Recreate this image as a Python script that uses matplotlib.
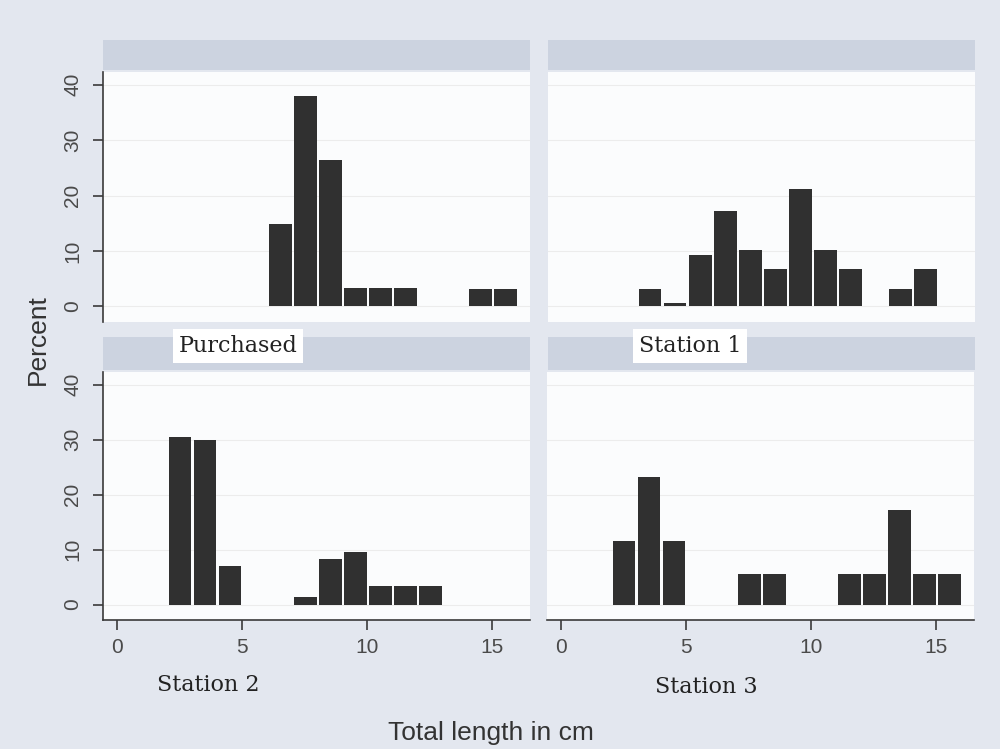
import matplotlib
matplotlib.use("Agg")
import matplotlib.pyplot as plt
from matplotlib import font_manager
from matplotlib.patches import Rectangle

# histogram data: left edge of each 1 cm bin and percent
purch_bins = [6, 7, 8, 9, 10, 11, 14, 15]
purch_pct = [14.9, 37.9, 26.4, 3.3, 3.3, 3.3, 3.2, 3.2]

st1_bins = [3, 4, 5, 6, 7, 8, 9, 10, 11, 13, 14]
st1_pct = [3.2, 0.7, 9.3, 17.3, 10.2, 6.7, 21.2, 10.2, 6.7, 3.2, 6.7]

st2_bins = [2, 3, 4, 7, 8, 9, 10, 11, 12]
st2_pct = [30.5, 30.0, 7.0, 1.3, 8.3, 9.5, 3.3, 3.3, 3.3]

st3_bins = [2, 3, 4, 7, 8, 11, 12, 13, 14, 15]
st3_pct = [11.6, 23.2, 11.6, 5.5, 5.5, 5.5, 5.5, 17.2, 5.5, 5.5]

panel_names = ["Purchased", "Station 1", "Station 2", "Station 3"]
y_ticks = [0, 10, 20, 30, 40]
x_ticks = [0, 5, 10, 15]

names = {f.name for f in font_manager.fontManager.ttflist}
sans = "Liberation Sans Narrow" if "Liberation Sans Narrow" in names else "Liberation Sans"
serif = "DejaVu Serif"

bg = "#e3e7ef"
strip = "#ccd3e0"
plot_bg = "#fbfcfd"
bar_col = "#303030"
ink = "#3a3a3a"

W, H = 1000, 749
fig = plt.figure(figsize=(10, 7.49), dpi=100)
fig.patch.set_facecolor(bg)


def fx(px):
    return px / W


def fy(py):
    return 1 - py / H


# grey header strips
for (x0, x1) in [(103, 530), (548, 975)]:
    for (y0, y1) in [(40, 70), (337, 370)]:
        fig.patches.append(Rectangle((fx(x0), fy(y1)), fx(x1 - x0), (y1 - y0) / H,
                                     transform=fig.transFigure, facecolor=strip,
                                     edgecolor="none", zorder=0))

boxes = {
    "tl": [fx(103), fy(322), fx(427), 250 / H],
    "tr": [fx(548), fy(322), fx(427), 250 / H],
    "bl": [fx(103), fy(620), fx(427), 248 / H],
    "br": [fx(547), fy(620), fx(427), 248 / H],
}
data = {
    "tl": (purch_bins, purch_pct),
    "tr": (st1_bins, st1_pct),
    "bl": (st2_bins, st2_pct),
    "br": (st3_bins, st3_pct),
}

for key, rect in boxes.items():
    ax = fig.add_axes(rect)
    ax.set_facecolor(plot_bg)
    bins, pct = data[key]
    ax.bar([b + 0.53 for b in bins], pct, width=0.9, color=bar_col, zorder=3)
    ax.set_xlim(-0.55, 16.5)
    ax.set_ylim(-2.8, 42.3)
    for t in y_ticks:
        ax.axhline(t, color="#ececec", lw=0.8, zorder=1)
    for s in ax.spines.values():
        s.set_visible(False)
    left = key in ("tl", "bl")
    bottom = key in ("bl", "br")
    if left:
        ax.spines["left"].set_visible(True)
        ax.spines["left"].set_color(ink)
        ax.spines["left"].set_linewidth(1.2)
        ax.set_yticks(y_ticks)
        ax.set_yticklabels([str(t) for t in y_ticks], rotation=90, va="center",
                           family=sans, fontsize=15, color="#4a4a4a")
        ax.tick_params(axis="y", length=7, width=1.2, color=ink, pad=8)
    else:
        ax.set_yticks([])
    if bottom:
        ax.spines["bottom"].set_visible(True)
        ax.spines["bottom"].set_color(ink)
        ax.spines["bottom"].set_linewidth(1.2)
        ax.set_xticks(x_ticks)
        ax.set_xticklabels([str(t) for t in x_ticks], family=sans, fontsize=15,
                           color="#4a4a4a")
        ax.tick_params(axis="x", length=7, width=1.2, color=ink, pad=6)
    else:
        ax.set_xticks([])

# panel labels, placed as in the scan
box = dict(facecolor="white", edgecolor="none", pad=4)
fig.text(fx(238), fy(346), panel_names[0], family=serif, fontsize=16, color="#222222",
         ha="center", va="center", bbox=box)
fig.text(fx(690), fy(346), panel_names[1], family=serif, fontsize=16, color="#222222",
         ha="center", va="center", bbox=box)
fig.text(fx(208), fy(685), panel_names[2], family=serif, fontsize=16, color="#222222",
         ha="center", va="center")
fig.text(fx(706), fy(687), panel_names[3], family=serif, fontsize=16, color="#222222",
         ha="center", va="center")

fig.text(fx(491), fy(733), "Total length in cm", family=sans, fontsize=19,
         color="#333333", ha="center", va="center")
fig.text(fx(38), fy(340), "Percent", family=sans, fontsize=19, color="#333333",
         ha="center", va="center", rotation=90)

fig.savefig("out.png", dpi=100, facecolor=fig.get_facecolor())
